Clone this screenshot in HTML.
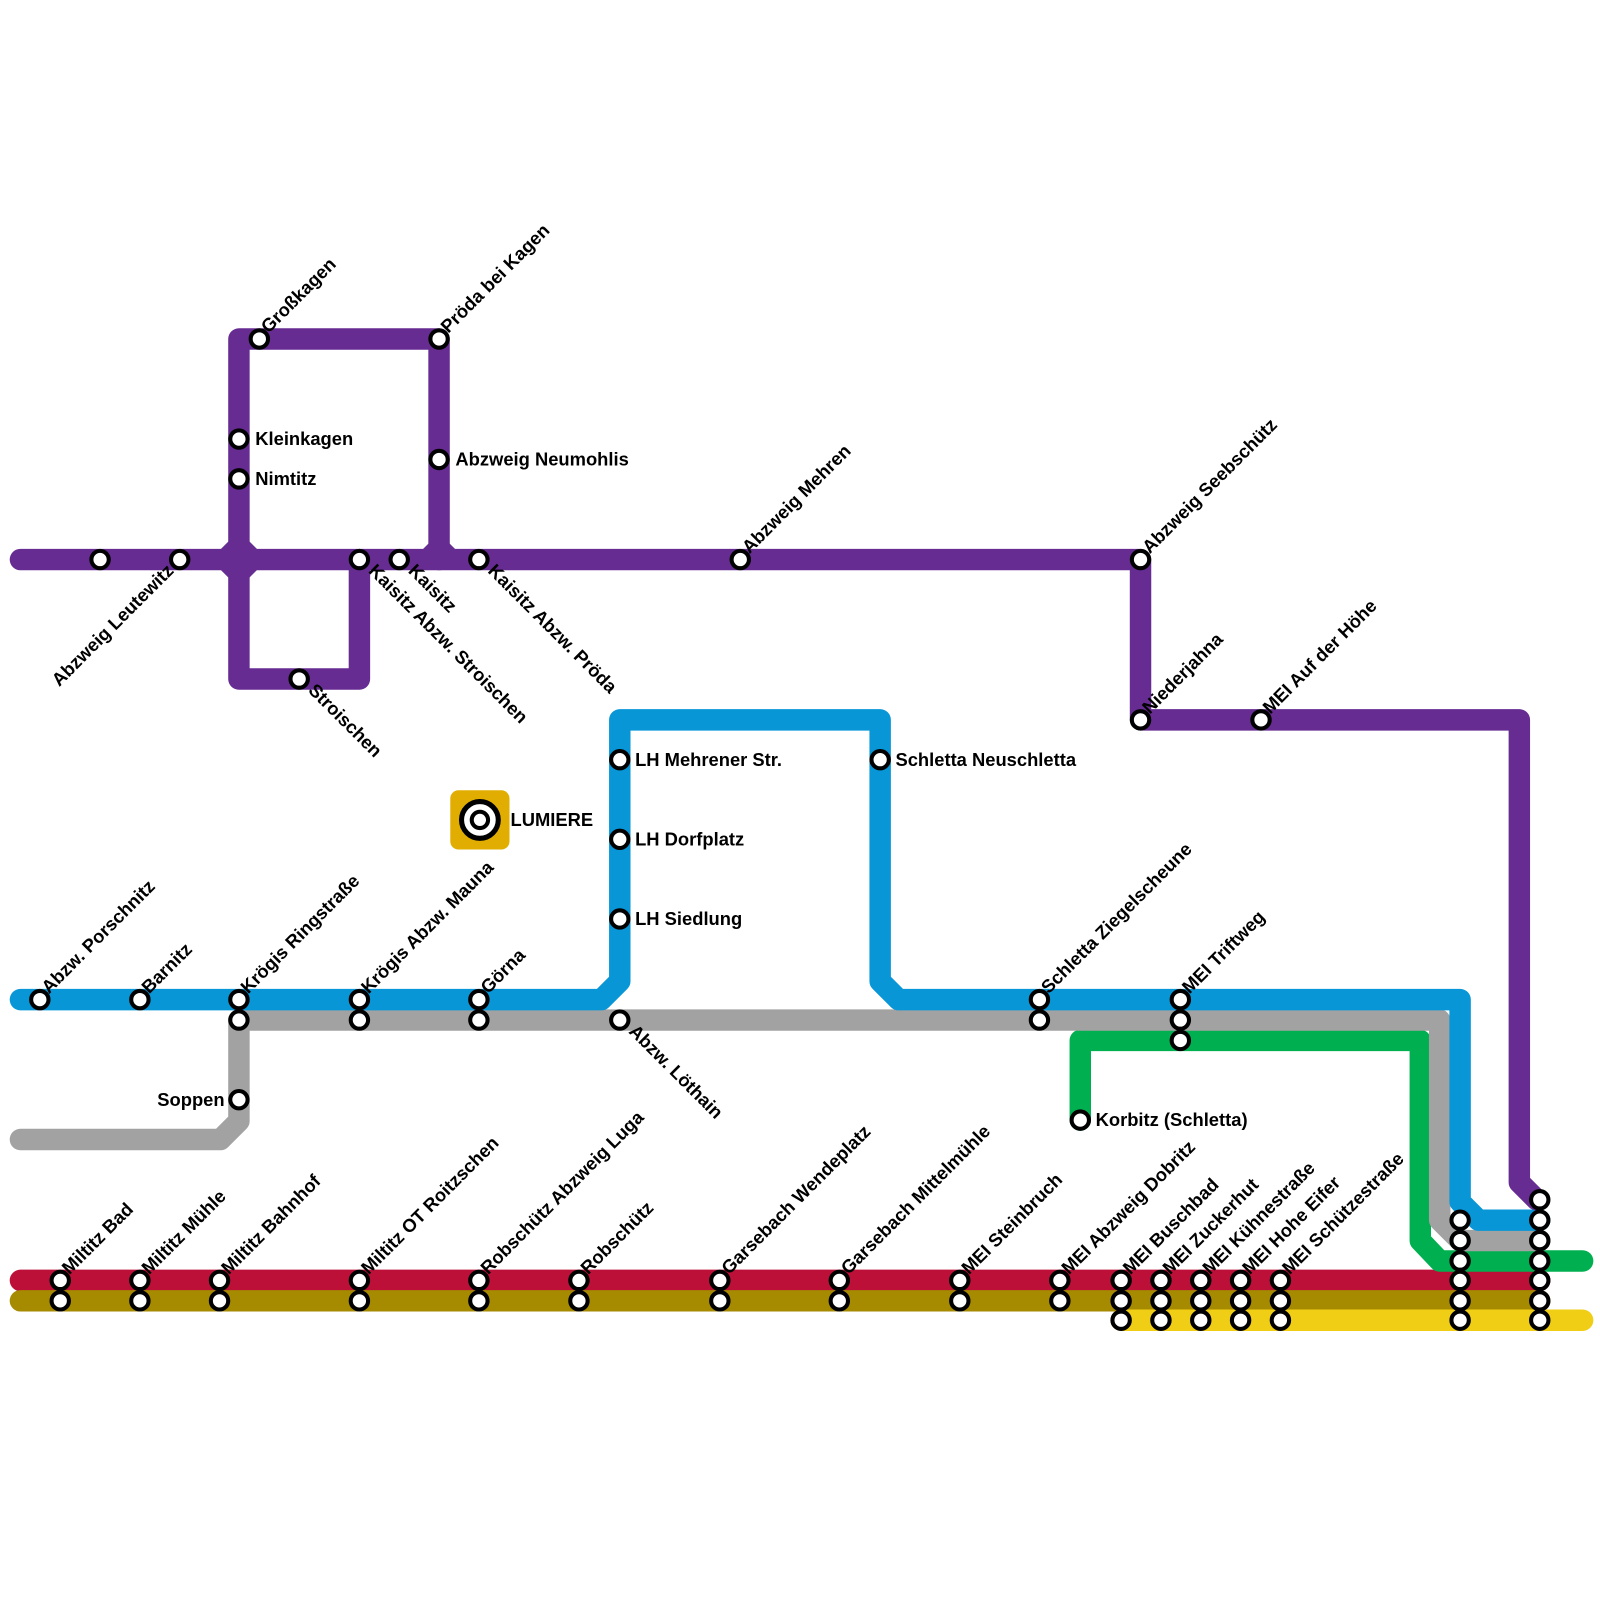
<!DOCTYPE html>
<html><head><meta charset="utf-8"><style>
html,body{margin:0;padding:0;background:#fff;}
svg{display:block}
text{font-family:"Liberation Sans",sans-serif;font-weight:bold;font-size:18px;fill:#000}
</style></head><body>
<svg width="1600" height="1600" viewBox="0 0 1567 1567" xmlns="http://www.w3.org/2000/svg">
<g fill="none" stroke-width="21" stroke-linecap="round" stroke-linejoin="round">
<path d="M20 1254H1508" stroke="#bd1038"/>
<path d="M20 1274H1508" stroke="#a68a00"/>
<path d="M1098 1293H1550" stroke="#f0ce15"/>
<path d="M1058 1097V1019H1391V1215L1410 1235H1550" stroke="#00b050"/>
<path d="M20 1116H216L234 1098V999H1410V1195L1430 1215H1508" stroke="#a2a2a2"/>
<path d="M20 979H589L607 961V705H862V961L880 979H1430V1177L1448 1195H1508" stroke="#0896d7"/>
<path d="M20 548H1117V705H1488V1158L1505 1175" stroke="#662c91"/>
<path d="M234 548V332H430V548" stroke="#662c91"/>
<path d="M234 548V665H352V548" stroke="#662c91"/>
</g>
<polygon points="234,520 262,548 234,576 206,548" fill="#662c91"/>
<polygon points="430,522 456,548 404,548" fill="#662c91"/>
<rect x="441" y="774" width="58" height="58" rx="8" fill="#e0ad00"/>
<circle cx="470" cy="803" r="18" fill="#fff" stroke="#000" stroke-width="5"/>
<circle cx="470" cy="803" r="8" fill="#fff" stroke="#000" stroke-width="4"/>
<text x="500" y="809">LUMIERE</text>
<g fill="#fff" stroke="#000" stroke-width="4">
<circle cx="98" cy="548" r="8.5"/><circle cx="176" cy="548" r="8.5"/>
<circle cx="254" cy="332" r="8.5"/><circle cx="430" cy="332" r="8.5"/>
<circle cx="234" cy="430" r="8.5"/><circle cx="234" cy="469" r="8.5"/>
<circle cx="430" cy="450" r="8.5"/>
<circle cx="352" cy="548" r="8.5"/><circle cx="391" cy="548" r="8.5"/><circle cx="469" cy="548" r="8.5"/>
<circle cx="293" cy="665" r="8.5"/>
<circle cx="725" cy="548" r="8.5"/><circle cx="1117" cy="548" r="8.5"/>
<circle cx="1117" cy="705" r="8.5"/><circle cx="1235" cy="705" r="8.5"/>
<circle cx="607" cy="744" r="8.5"/><circle cx="607" cy="822" r="8.5"/><circle cx="607" cy="900" r="8.5"/>
<circle cx="862" cy="744" r="8.5"/>
<circle cx="39" cy="979" r="8.5"/><circle cx="137" cy="979" r="8.5"/>
<circle cx="234" cy="979" r="8.5"/><circle cx="234" cy="999" r="8.5"/>
<circle cx="352" cy="979" r="8.5"/><circle cx="352" cy="999" r="8.5"/>
<circle cx="469" cy="979" r="8.5"/><circle cx="469" cy="999" r="8.5"/>
<circle cx="607" cy="999" r="8.5"/>
<circle cx="1018" cy="979" r="8.5"/><circle cx="1018" cy="999" r="8.5"/>
<circle cx="1156" cy="979" r="8.5"/><circle cx="1156" cy="999" r="8.5"/><circle cx="1156" cy="1019" r="8.5"/>
<circle cx="234" cy="1077" r="8.5"/>
<circle cx="1058" cy="1097" r="8.5"/>
<circle cx="59" cy="1254" r="8.5"/><circle cx="59" cy="1274" r="8.5"/>
<circle cx="137" cy="1254" r="8.5"/><circle cx="137" cy="1274" r="8.5"/>
<circle cx="215" cy="1254" r="8.5"/><circle cx="215" cy="1274" r="8.5"/>
<circle cx="352" cy="1254" r="8.5"/><circle cx="352" cy="1274" r="8.5"/>
<circle cx="469" cy="1254" r="8.5"/><circle cx="469" cy="1274" r="8.5"/>
<circle cx="567" cy="1254" r="8.5"/><circle cx="567" cy="1274" r="8.5"/>
<circle cx="705" cy="1254" r="8.5"/><circle cx="705" cy="1274" r="8.5"/>
<circle cx="822" cy="1254" r="8.5"/><circle cx="822" cy="1274" r="8.5"/>
<circle cx="940" cy="1254" r="8.5"/><circle cx="940" cy="1274" r="8.5"/>
<circle cx="1038" cy="1254" r="8.5"/><circle cx="1038" cy="1274" r="8.5"/>
<circle cx="1098" cy="1254" r="8.5"/><circle cx="1098" cy="1274" r="8.5"/><circle cx="1098" cy="1293" r="8.5"/>
<circle cx="1137" cy="1254" r="8.5"/><circle cx="1137" cy="1274" r="8.5"/><circle cx="1137" cy="1293" r="8.5"/>
<circle cx="1176" cy="1254" r="8.5"/><circle cx="1176" cy="1274" r="8.5"/><circle cx="1176" cy="1293" r="8.5"/>
<circle cx="1215" cy="1254" r="8.5"/><circle cx="1215" cy="1274" r="8.5"/><circle cx="1215" cy="1293" r="8.5"/>
<circle cx="1254" cy="1254" r="8.5"/><circle cx="1254" cy="1274" r="8.5"/><circle cx="1254" cy="1293" r="8.5"/>
<circle cx="1430" cy="1195" r="8.5"/><circle cx="1430" cy="1215" r="8.5"/><circle cx="1430" cy="1235" r="8.5"/>
<circle cx="1430" cy="1254" r="8.5"/><circle cx="1430" cy="1274" r="8.5"/><circle cx="1430" cy="1293" r="8.5"/>
<circle cx="1508" cy="1175" r="8.5"/><circle cx="1508" cy="1195" r="8.5"/><circle cx="1508" cy="1215" r="8.5"/>
<circle cx="1508" cy="1235" r="8.5"/><circle cx="1508" cy="1254" r="8.5"/><circle cx="1508" cy="1274" r="8.5"/><circle cx="1508" cy="1293" r="8.5"/>
</g>
<text x="250" y="436">Kleinkagen</text>
<text x="250" y="475">Nimtitz</text>
<text x="446" y="456">Abzweig Neumohlis</text>
<text x="622" y="750">LH Mehrener Str.</text>
<text x="622" y="828">LH Dorfplatz</text>
<text x="622" y="906">LH Siedlung</text>
<text x="877" y="750">Schletta Neuschletta</text>
<text x="1073" y="1103">Korbitz (Schletta)</text>
<text x="220" y="1083" text-anchor="end">Soppen</text>
<g>
<text transform="translate(263,327) rotate(-45)">Großkagen</text>
<text transform="translate(439,327) rotate(-45)">Pröda bei Kagen</text>
<text transform="translate(734,543) rotate(-45)">Abzweig Mehren</text>
<text transform="translate(1126,543) rotate(-45)">Abzweig Seebschütz</text>
<text transform="translate(1126,700) rotate(-45)">Niederjahna</text>
<text transform="translate(1244,700) rotate(-45)">MEI Auf der Höhe</text>
<text transform="translate(1027,974) rotate(-45)">Schletta Ziegelscheune</text>
<text transform="translate(1165,974) rotate(-45)">MEI Triftweg</text>
<text transform="translate(48,974) rotate(-45)">Abzw. Porschnitz</text>
<text transform="translate(146,974) rotate(-45)">Barnitz</text>
<text transform="translate(243,974) rotate(-45)">Krögis Ringstraße</text>
<text transform="translate(361,974) rotate(-45)">Krögis Abzw. Mauna</text>
<text transform="translate(478,974) rotate(-45)">Görna</text>
<text transform="translate(68,1249) rotate(-45)">Miltitz Bad</text>
<text transform="translate(146,1249) rotate(-45)">Miltitz Mühle</text>
<text transform="translate(224,1249) rotate(-45)">Miltitz Bahnhof</text>
<text transform="translate(361,1249) rotate(-45)">Miltitz OT Roitzschen</text>
<text transform="translate(478,1249) rotate(-45)">Robschütz Abzweig Luga</text>
<text transform="translate(576,1249) rotate(-45)">Robschütz</text>
<text transform="translate(714,1249) rotate(-45)">Garsebach Wendeplatz</text>
<text transform="translate(831,1249) rotate(-45)">Garsebach Mittelmühle</text>
<text transform="translate(949,1249) rotate(-45)">MEI Steinbruch</text>
<text transform="translate(1047,1249) rotate(-45)">MEI Abzweig Dobritz</text>
<text transform="translate(1107,1249) rotate(-45)">MEI Buschbad</text>
<text transform="translate(1146,1249) rotate(-45)">MEI Zuckerhut</text>
<text transform="translate(1185,1249) rotate(-45)">MEI Kühnestraße</text>
<text transform="translate(1224,1249) rotate(-45)">MEI Hohe Eifer</text>
<text transform="translate(1263,1249) rotate(-45)">MEI Schützestraße</text>
</g>
<text transform="translate(360,560) rotate(45)">Kaisitz Abzw. Stroischen</text>
<text transform="translate(399,560) rotate(45)">Kaisitz</text>
<text transform="translate(477,560) rotate(45)">Kaisitz Abzw. Pröda</text>
<text transform="translate(301,677) rotate(45)">Stroischen</text>
<text transform="translate(615,1011) rotate(45)">Abzw. Löthain</text>
<text transform="translate(171,560) rotate(-45)" text-anchor="end">Abzweig Leutewitz</text>
</svg>
</body></html>
